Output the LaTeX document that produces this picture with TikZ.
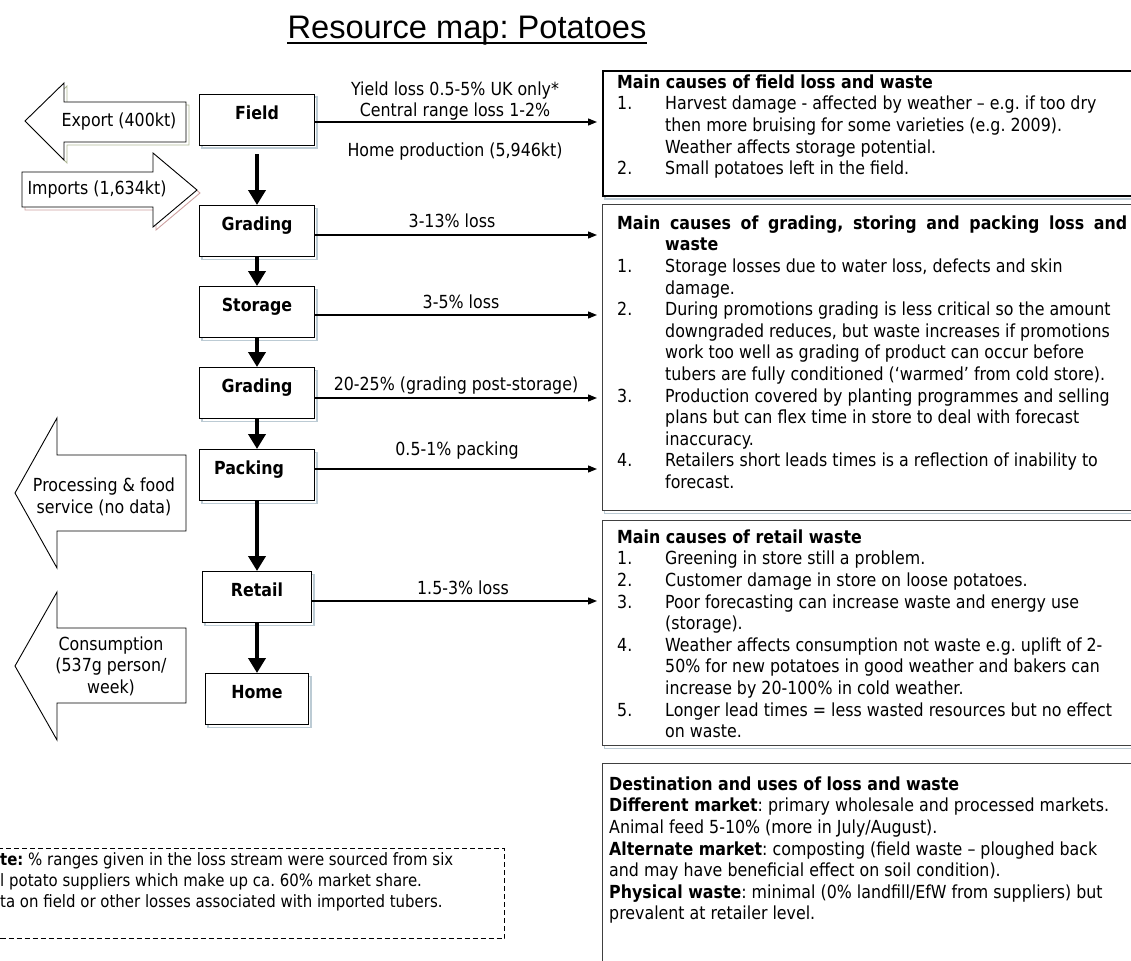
\documentclass[tikz,border=0pt]{standalone}
\usepackage{fontspec}
\setmainfont{DejaVu Sans}[FakeStretch=0.88]
\newfontfamily\titlefont{Liberation Sans}
\usetikzlibrary{arrows.meta}
\definecolor{boxshade}{RGB}{188, 203, 212}
\definecolor{exportshade}{RGB}{176, 184, 150}
\definecolor{importshade}{RGB}{205, 160, 160}
\newcommand{\bodysize}{\fontsize{18}{21.6}\selectfont}
\newcommand{\notesize}{\fontsize{17}{21}\selectfont}
\frenchspacing

\begin{document}
\begin{tikzpicture}[x=1pt, y=-1pt,
    font=\bodysize,
    stage/.style={draw=black, line width=1.3pt, fill=white, anchor=north,
        minimum width=115pt, inner xsep=0pt, inner ysep=0pt,
        text height=25pt, text depth=26pt, font=\bodysize\bfseries,
        preaction={draw=boxshade, line width=1.3pt,
            transform canvas={shift={(2.5pt,-2.5pt)}}}},
    flow/.style={-{Triangle[width=17pt, length=15pt]}, line width=4.5pt},
    loss/.style={-{Triangle[width=7pt, length=9pt]}, line width=1.3pt},
    losslabel/.style={inner sep=0pt, anchor=base},
    bigarrow/.style={draw=black, line width=0.9pt, fill=white},
    arrowtext/.style={align=center, inner sep=0pt},
    causebox/.style={draw=black!75, line width=1.4pt, fill=white,
        anchor=north west, minimum width=560pt, inner sep=0pt,
        preaction={draw=boxshade, line width=1.4pt,
            transform canvas={shift={(2pt,-3pt)}}}},
    causetext/.style={anchor=north west, inner sep=0pt},
    note/.style={draw=black, line width=1pt, dash pattern=on 5pt off 3pt}
]
    \useasboundingbox (0,0) rectangle (1131,960);
    \clip (0,0) rectangle (1131,960);

    % title
    \node[inner sep=0pt, anchor=base, font=\titlefont\fontsize{32.6}{39}\selectfont]
        (title) at (467,39) {Resource map: Potatoes};
    \draw[line width=2pt] ([yshift=-4pt]title.base west) -- ([yshift=-4pt]title.base east);

    % stages of the chain
    \node[stage] (field) at (257,94) {Field};
    \node[stage] (grading) at (257,205) {Grading};
    \node[stage] (storage) at (257,286) {Storage};
    \node[stage] (regrading) at (257,367) {Grading};
    \node[stage] (packing) at (257,449) {\hspace*{-16pt}Packing};
    \node[stage, minimum width=109pt] (retail) at (257,571) {Retail};
    \node[stage, minimum width=103pt] (home) at (257,673) {Home};

    \draw[flow] ([yshift=-8pt]field.south) -- (grading.north);
    \foreach \a/\b in {grading/storage, storage/regrading, regrading/packing,
        packing/retail, retail/home}
        \draw[flow] (\a.south) -- (\b.north);

    % loss streams
    \coordinate (fieldloss) at (597,122);
    \coordinate (gradeloss) at (597,235);
    \coordinate (storeloss) at (597,315);
    \coordinate (postloss) at (597,398);
    \coordinate (packloss) at (597,469);
    \coordinate (retailloss) at (597,601);
    \draw[loss] (field.east |- fieldloss) -- (fieldloss);
    \draw[loss] (grading.east |- gradeloss) -- (gradeloss);
    \draw[loss] (storage.east |- storeloss) -- (storeloss);
    \draw[loss] (regrading.east |- postloss) -- (postloss);
    \draw[loss] (packing.east |- packloss) -- (packloss);
    \draw[loss] (retail.east |- retailloss) -- (retailloss);

    \node[losslabel] (yield) at (455,96) {Yield loss 0.5-5\% UK only*};
    \node[losslabel] (central) at (455,117) {Central range loss 1-2\%};
    \node[losslabel] (homeprod) at (455,157) {Home production (5,946kt)};
    \node[losslabel] (gradelabel) at (452,227) {3-13\% loss};
    \node[losslabel] (storelabel) at (461,308) {3-5\% loss};
    \node[losslabel] (postlabel) at (456,390) {20-25\% (grading post-storage)};
    \node[losslabel] (packlabel) at (457,455) {0.5-1\% packing};
    \node[losslabel] (retaillabel) at (463,594) {1.5-3\% loss};

    % trade and consumption arrows
    \draw[bigarrow, preaction={draw=exportshade, line width=0.9pt,
            transform canvas={shift={(3pt,-3pt)}}}]
        (25,121) -- (64,83) -- (64,102) -- (186,102) -- (186,142)
        -- (64,142) -- (64,160) -- cycle;
    \node[arrowtext] (export) at (119,122) {Export (400kt)};
    \draw[bigarrow, preaction={draw=importshade, line width=0.9pt,
            transform canvas={shift={(3pt,-3pt)}}}]
        (22,172) -- (153,172) -- (153,153) -- (197,190) -- (153,227)
        -- (153,207) -- (22,207) -- cycle;
    \node[arrowtext] (imports) at (97,190) {Imports (1,634kt)};
    \draw[bigarrow] (15,493) -- (57,418) -- (57,455) -- (186,455) -- (186,531)
        -- (57,531) -- (57,568) -- cycle;
    \node[arrowtext] (processing) at (104,497) {Processing \& food\\service (no data)};
    \draw[bigarrow] (15,666) -- (57,592) -- (57,628) -- (186,628) -- (186,703)
        -- (57,703) -- (57,740) -- cycle;
    \node[arrowtext] (consumption) at (111,666) {Consumption\\(537g person/\\week)};

    % causes of loss and waste
    \node[causebox, draw=black, line width=1.8pt, minimum height=125pt] (fieldcauses) at (602,70) {};
    \node[causebox, minimum height=306pt] (packcauses) at (602,204) {};
    \node[causebox, minimum height=225pt] (retailcauses) at (602,520) {};
    \node[causebox, minimum height=260pt] (uses) at (602,763) {};

    \node[causetext] (fieldtext) at ([shift={(15pt,-3pt)}]fieldcauses.north west) {%
        \begin{tabular}{@{}p{48pt}@{}l@{}}
        \multicolumn{2}{@{}l@{}}{\bfseries Main causes of field loss and waste}\\
        1. & Harvest damage - affected by weather -- e.g. if too dry\\
           & then more bruising for some varieties (e.g. 2009).\\
           & Weather affects storage potential.\\
        2. & Small potatoes left in the field.
        \end{tabular}};
    \node[causetext] (packtext) at ([shift={(15pt,-10pt)}]packcauses.north west) {%
        \begin{tabular}{@{}p{48pt}@{}l@{}}
        \multicolumn{2}{@{}l@{}}{\makebox[510pt][s]{\bfseries Main causes of grading, storing and packing loss and}}\\
           & \bfseries waste\\
        1. & Storage losses due to water loss, defects and skin\\
           & damage.\\
        2. & During promotions grading is less critical so the amount\\
           & downgraded reduces, but waste increases if promotions\\
           & work too well as grading of product can occur before\\
           & tubers are fully conditioned (‘warmed’ from cold store).\\
        3. & Production covered by planting programmes and selling\\
           & plans but can flex time in store to deal with forecast\\
           & inaccuracy.\\
        4. & Retailers short leads times is a reflection of inability to\\
           & forecast.
        \end{tabular}};
    \node[causetext] (retailtext) at ([shift={(15pt,-8pt)}]retailcauses.north west) {%
        \begin{tabular}{@{}p{48pt}@{}l@{}}
        \multicolumn{2}{@{}l@{}}{\bfseries Main causes of retail waste}\\
        1. & Greening in store still a problem.\\
        2. & Customer damage in store on loose potatoes.\\
        3. & Poor forecasting can increase waste and energy use\\
           & (storage).\\
        4. & Weather affects consumption not waste e.g. uplift of 2-\\
           & 50\% for new potatoes in good weather and bakers can\\
           & increase by 20-100\% in cold weather.\\
        5. & Longer lead times = less wasted resources but no effect\\
           & on waste.
        \end{tabular}};
    \node[causetext] (usestext) at ([shift={(7pt,-12pt)}]uses.north west) {%
        \begin{tabular}{@{}l@{}}
        \bfseries Destination and uses of loss and waste\\
        \textbf{Different market}: primary wholesale and processed markets.\\
        Animal feed 5-10\% (more in July/August).\\
        \textbf{Alternate market}: composting (field waste -- ploughed back\\
        and may have beneficial effect on soil condition).\\
        \textbf{Physical waste}: minimal (0\% landfill/EfW from suppliers) but\\
        prevalent at retailer level.
        \end{tabular}};

    % note on sources
    \node[note, anchor=north east, minimum width=560pt, minimum height=90pt]
        (notebox) at (505,848) {};
    \node[causetext, font=\notesize] (notetext) at (0,851) {%
        \begin{tabular}{@{}l@{}}
        \textbf{te:} \% ranges given in the loss stream were sourced from six\\
        l potato suppliers which make up ca. 60\%  market share.\\
        ta on field or other losses associated with imported tubers.
        \end{tabular}};
\end{tikzpicture}
\end{document}
